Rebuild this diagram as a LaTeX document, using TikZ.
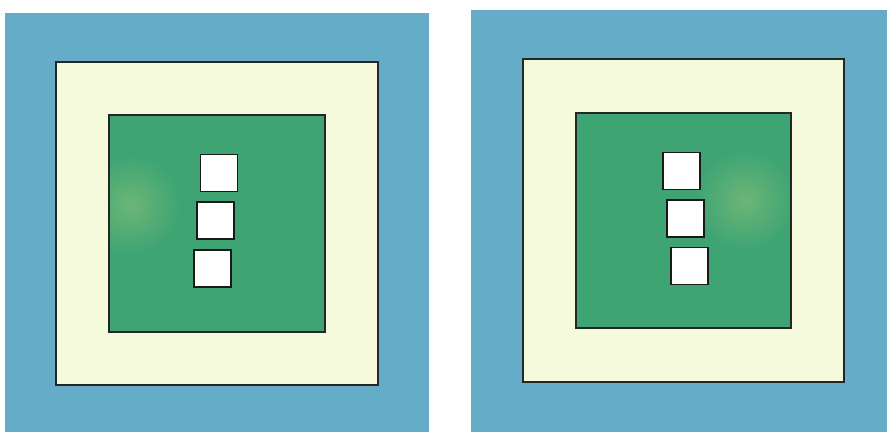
\documentclass[tikz,border=0pt]{standalone}
\definecolor{bluebg}{RGB}{100,172,200}
\definecolor{creamfill}{RGB}{246,250,220}
\definecolor{greenfill}{RGB}{62,164,116}
\definecolor{greenlight}{RGB}{108,182,118}
\tikzset{
  outline/.style={draw=black!85, line width=1.1pt},
  sq/.style={draw=black!90, line width=1.5pt, fill=white, minimum width=37pt, minimum height=37pt, inner sep=0pt},
}
\begin{document}
\begin{tikzpicture}[x=1pt,y=-1pt]
\useasboundingbox (0,0) rectangle (887,432);
\fill[white] (0,0) rectangle (887,432);
% left panel
\fill[bluebg] (5,13) rectangle (429,432);
\filldraw[outline, fill=creamfill] (56,62) rectangle (378,385);
\begin{scope}
  \clip (109,115) rectangle (325,332);
  \fill[greenfill] (109,115) rectangle (325,332);
  \shade[inner color=greenlight, outer color=greenfill] (130,205) circle (50);
\end{scope}
\draw[outline] (109,115) rectangle (325,332);
\node[sq] (l1) at (219,173) {};
\node[sq] (l2) at (215.5,220.5) {};
\node[sq] (l3) at (212.5,268.5) {};
% right panel
\fill[bluebg] (471,10) rectangle (887,432);
\filldraw[outline, fill=creamfill] (523,59) rectangle (844,382);
\begin{scope}
  \clip (576,113) rectangle (791,328);
  \fill[greenfill] (576,113) rectangle (791,328);
  \shade[inner color=greenlight, outer color=greenfill] (745,200) circle (50);
\end{scope}
\draw[outline] (576,113) rectangle (791,328);
\node[sq] (r1) at (681.5,171) {};
\node[sq] (r2) at (685.5,218.5) {};
\node[sq] (r3) at (689.5,266) {};
\end{tikzpicture}
\end{document}
